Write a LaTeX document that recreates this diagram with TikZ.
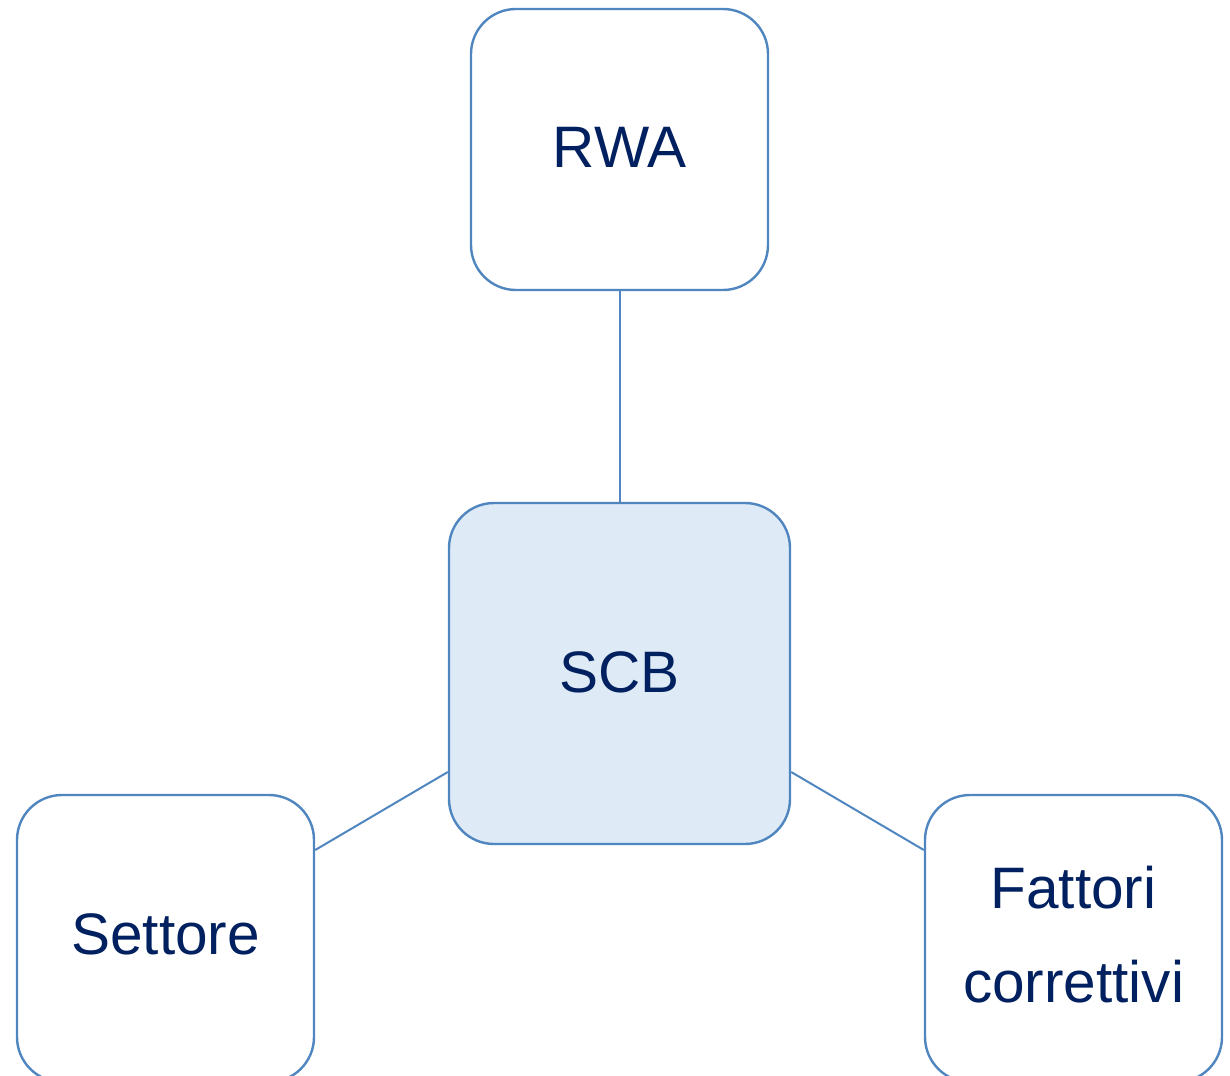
\documentclass[tikz,border=0pt]{standalone}
\usepackage{fontspec}
\setmainfont{Liberation Sans}
\definecolor{bordc}{HTML}{4F86C0}
\definecolor{fillc}{HTML}{DEEAF6}
\definecolor{txtc}{HTML}{002060}
\begin{document}
\begin{tikzpicture}[x=1pt,y=-1pt,
  boxst/.style={draw=bordc,line width=2.4pt,rounded corners=45pt,fill=white,
    inner sep=0pt,align=center,text=txtc,font=\fontsize{58.5}{94}\selectfont},
  conn/.style={draw=bordc,line width=2pt}]
\useasboundingbox (0,0) rectangle (1230,1075);
\node[boxst,text depth=5pt,minimum width=297pt,minimum height=281pt] (rwa) at (619.5,149.5) {RWA};
\node[boxst,text depth=2pt,fill=fillc,minimum width=341pt,minimum height=341pt] (scb) at (619.5,673.5) {SCB};
\node[boxst,text depth=9pt,minimum width=297pt,minimum height=287pt] (set) at (165.5,938.5) {Settore};
\node[boxst,text depth=9pt,minimum width=297pt,minimum height=287pt] (fat) at (1073.5,938.5) {Fattori\\correttivi};
\draw[conn] (rwa.south) -- (scb.north);
\draw[conn] ([yshift=-98.5pt]scb.west) -- ([yshift=88.5pt]set.east);
\draw[conn] ([yshift=-98.5pt]scb.east) -- ([yshift=88.5pt]fat.west);
\end{tikzpicture}
\end{document}
